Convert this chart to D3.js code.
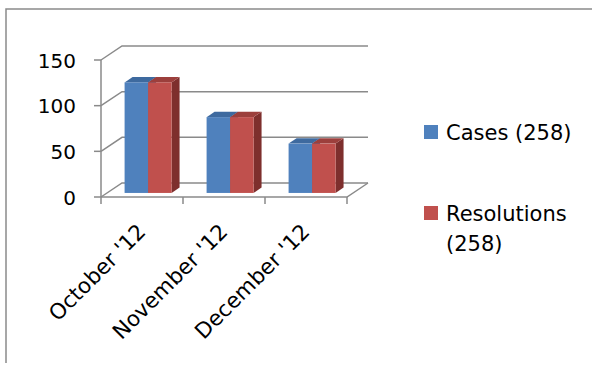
<!DOCTYPE html>
<html><head><meta charset="utf-8">
<script src="https://cdnjs.cloudflare.com/ajax/libs/d3/7.8.5/d3.min.js"></script>
<style>html,body{margin:0;padding:0;background:#fff;}svg{display:block;}</style>
</head><body>
<script>
const categories = ["October '12", "November '12", "December '12"];
const seriesNames = ["Cases (258)", "Resolutions (258)"];
const cases = [121, 83, 54];
const resolutions = [121, 83, 54];
const yTicks = [0, 50, 100, 150];
const legendLines = [["Cases (258)"], ["Resolutions", "(258)"]];

const W = 592, H = 366;
const colors = {
  front: ["#4F81BD", "#C0504D"],
  top: ["#3E6A9F", "#9C3F3C"],
  side: ["#365F91", "#7E2F2D"]
};
const grid = "#8a8a8a";
const font = "DejaVu Sans";

const svg = d3.select("body").append("svg").attr("width", W).attr("height", H);

// border
svg.append("path").attr("d", `M6,363 L6,9 L${W},9`).attr("fill", "none")
  .attr("stroke", grid).attr("stroke-width", 1.5);

const x0 = d3.scaleBand().domain(categories).range([101, 347]).padding(0);
const x1 = d3.scaleBand().domain(seriesNames).range([0, x0.bandwidth()]).paddingInner(0).paddingOuter(0.745);
const y = d3.scaleLinear().domain([0, 150]).range([197, 60]);
const D = [21, -14];
const fFront = 0.29, fDepth = 0.38;

const g = svg.append("g");
// back wall gridlines + side wall diagonals
yTicks.forEach(t => {
  const yf = y(t);
  g.append("path")
    .attr("d", `M${x0.range()[0]},${yf} L${x0.range()[0] + D[0]},${yf + D[1]} L${x0.range()[1] + D[0]},${yf + D[1]}`)
    .attr("fill", "none").attr("stroke", grid).attr("stroke-width", 1.5);
});
// floor
g.append("path")
  .attr("d", `M${x0.range()[0]},${y(0)} L${x0.range()[1]},${y(0)} L${x0.range()[1] + D[0]},${y(0) + D[1]}`)
  .attr("fill", "none").attr("stroke", grid).attr("stroke-width", 1.5);
// front y axis
g.append("line").attr("x1", 101).attr("x2", 101).attr("y1", y(150)).attr("y2", y(0))
  .attr("stroke", grid).attr("stroke-width", 1.5);
yTicks.forEach(t => {
  g.append("line").attr("x1", 94).attr("x2", 101).attr("y1", y(t)).attr("y2", y(t))
    .attr("stroke", grid).attr("stroke-width", 1.5);
  g.append("text").attr("x", 76).attr("y", y(t) + 7.5).attr("text-anchor", "end")
    .attr("font-family", font).attr("font-size", 20).attr("fill", "#000").text(t);
});
// category ticks
const tickXs = categories.map(c => x0(c)).concat([x0.range()[1]]);
tickXs.forEach(tx => {
  g.append("line").attr("x1", tx).attr("x2", tx).attr("y1", y(0)).attr("y2", y(0) + 7)
    .attr("stroke", grid).attr("stroke-width", 1.5);
});

// bars
const seriesVals = [cases, resolutions];
const ox = D[0] * fFront, oy = D[1] * fFront;
const dx = D[0] * fDepth, dy = D[1] * fDepth;
categories.forEach((c, ci) => {
  seriesNames.forEach((s, si) => {
    const v = seriesVals[si][ci];
    const xl = x0(c) + x1(s) + ox;
    const xr = xl + x1.bandwidth();
    const yt = y(v) + oy;
    const yb = y(0) + oy;
    g.append("path").attr("d", `M${xr},${yt} L${xr + dx},${yt + dy} L${xr + dx},${yb + dy} L${xr},${yb} Z`)
      .attr("fill", colors.side[si]);
    g.append("path").attr("d", `M${xl},${yt} L${xl + dx},${yt + dy} L${xr + dx},${yt + dy} L${xr},${yt} Z`)
      .attr("fill", colors.top[si]);
    g.append("rect").attr("x", xl).attr("y", yt).attr("width", xr - xl).attr("height", yb - yt)
      .attr("fill", colors.front[si]);
  });
});

// x labels
categories.forEach(c => {
  const cx = x0(c) + x0.bandwidth() / 2;
  g.append("text").attr("transform", `translate(${cx + 5},${233}) rotate(-45)`)
    .attr("text-anchor", "end").attr("font-family", font).attr("font-size", 21.5)
    .attr("fill", "#000").text(c);
});

// legend
const legY = [125, 206];
legendLines.forEach((lines, i) => {
  svg.append("rect").attr("x", 424).attr("y", legY[i]).attr("width", 14).attr("height", 14)
    .attr("fill", colors.front[i]);
  lines.forEach((ln, j) => {
    svg.append("text").attr("x", 446).attr("y", legY[i] + 14.5 + j * 30)
      .attr("font-family", font).attr("font-size", 21).attr("fill", "#000").text(ln);
  });
});
</script>
</body></html>
